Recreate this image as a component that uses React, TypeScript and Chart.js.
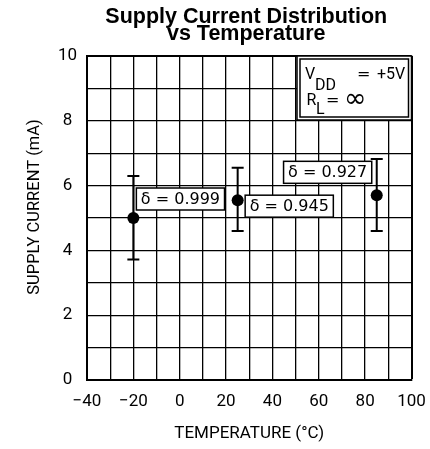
import React, { useEffect, useRef } from 'react';
import { Chart, registerables } from 'chart.js';

Chart.register(...registerables);

// ---- data ----
const temperatures = [-20, 25, 85];
const currentMean = [5.0, 5.55, 5.7];
const currentMax = [6.3, 6.55, 6.82];
const currentMin = [3.72, 4.6, 4.6];
const deltaLabels = ['δ = 0.999', 'δ = 0.945', 'δ = 0.927'];
const xTickLabels = [-40, -20, 0, 20, 40, 60, 80, 100];
const yTickLabels = [0, 2, 4, 6, 8, 10];
const titleLines = ['Supply Current Distribution', 'vs Temperature'];
const xAxisTitle = 'TEMPERATURE (°C)';
const yAxisTitle = 'SUPPLY CURRENT (mA)';

// ---- styles ----
const axisFont = "Roboto, 'DejaVu Sans', sans-serif";
const labelFont = "16px 'DejaVu Sans', sans-serif";
// label placement relative to its point (pixels): align 'left' => box left at dx, 'right' => box right at dx
const labelPlacement = [
  { align: 'left', dx: 3, dy: -19 },
  { align: 'left', dx: 7.5, dy: 6 },
  { align: 'right', dx: -5, dy: -23 },
];

const overlayPlugin = {
  id: 'overlay',
  afterDraw(chart: any) {
    const { ctx, chartArea } = chart;
    const xs = chart.scales.x;
    const ys = chart.scales.y;

    // Title
    ctx.save();
    ctx.fillStyle = '#000';
    ctx.font = "bold 21.5px 'Liberation Sans', Arial, sans-serif";
    ctx.textAlign = 'center';
    ctx.textBaseline = 'alphabetic';
    const cx = (chartArea.left + chartArea.right) / 2 - 3;
    ctx.fillText(titleLines[0], cx, chartArea.top - 33);
    ctx.fillText(titleLines[1], cx, chartArea.top - 16);
    ctx.restore();

    // Y axis title
    ctx.save();
    ctx.fillStyle = '#000';
    ctx.font = '16.5px ' + axisFont;
    ctx.textAlign = 'center';
    ctx.textBaseline = 'middle';
    ctx.translate(35, (chartArea.top + chartArea.bottom) / 2 - 11);
    ctx.rotate(-Math.PI / 2);
    ctx.fillText(yAxisTitle, 0, 0);
    ctx.restore();

    // Legend box (conditions)
    ctx.save();
    const bx0 = chartArea.right - 114.5;
    const by0 = chartArea.top;
    const bx1 = chartArea.right;
    const by1 = chartArea.top + 64;
    ctx.fillStyle = '#fff';
    ctx.fillRect(bx0, by0, bx1 - bx0, by1 - by0);
    ctx.strokeStyle = '#000';
    ctx.lineWidth = 1.5;
    ctx.strokeRect(bx0, by0, bx1 - bx0, by1 - by0);
    ctx.strokeRect(bx0 + 3, by0 + 3, bx1 - bx0 - 6, by1 - by0 - 6);
    ctx.fillStyle = '#000';
    ctx.textAlign = 'left';
    ctx.textBaseline = 'alphabetic';
    ctx.font = '16px ' + axisFont;
    ctx.fillText('V', bx0 + 8, by0 + 23);
    ctx.fillText('DD', bx0 + 18, by0 + 34);
    ctx.fillText('+5V', bx0 + 80, by0 + 23);
    ctx.fillText('R', bx0 + 9.5, by0 + 49);
    ctx.fillText('L', bx0 + 19, by0 + 58);
    ctx.font = "16px 'DejaVu Sans', sans-serif";
    ctx.fillText('=', bx0 + 60, by0 + 23);
    ctx.fillText('=', bx0 + 29, by0 + 49);
    ctx.font = "27px 'DejaVu Sans', sans-serif";
    ctx.textBaseline = 'middle';
    ctx.fillText('∞', bx0 + 47, by0 + 44);
    ctx.restore();

    // Error bars
    ctx.save();
    ctx.strokeStyle = '#000';
    ctx.lineWidth = 2;
    for (let i = 0; i < temperatures.length; i++) {
      const px = xs.getPixelForValue(temperatures[i]);
      const pTop = ys.getPixelForValue(currentMax[i]);
      const pBot = ys.getPixelForValue(currentMin[i]);
      ctx.beginPath();
      ctx.moveTo(px, pTop);
      ctx.lineTo(px, pBot);
      ctx.moveTo(px - 6, pTop);
      ctx.lineTo(px + 6, pTop);
      ctx.moveTo(px - 6, pBot);
      ctx.lineTo(px + 6, pBot);
      ctx.stroke();
    }
    ctx.restore();

    // Points
    ctx.save();
    ctx.fillStyle = '#000';
    for (let i = 0; i < temperatures.length; i++) {
      const px = xs.getPixelForValue(temperatures[i]);
      const py = ys.getPixelForValue(currentMean[i]);
      ctx.beginPath();
      ctx.arc(px, py, 6, 0, Math.PI * 2);
      ctx.fill();
    }
    ctx.restore();

    // Delta labels
    ctx.save();
    ctx.font = labelFont;
    ctx.textBaseline = 'middle';
    ctx.textAlign = 'left';
    for (let i = 0; i < temperatures.length; i++) {
      const px = xs.getPixelForValue(temperatures[i]);
      const py = ys.getPixelForValue(currentMean[i]);
      const pl = labelPlacement[i];
      const tw = ctx.measureText(deltaLabels[i]).width;
      const w = tw + 9;
      const h = 22;
      const left = pl.align === 'left' ? px + pl.dx : px + pl.dx - w;
      const cy = py + pl.dy;
      ctx.fillStyle = '#fff';
      ctx.fillRect(left, cy - h / 2, w, h);
      ctx.strokeStyle = '#000';
      ctx.lineWidth = 1.5;
      ctx.strokeRect(left, cy - h / 2, w, h);
      ctx.fillStyle = '#000';
      ctx.fillText(deltaLabels[i], left + 4.5, cy + 1);
    }
    ctx.restore();
  },
};

export default function App() {
  const canvasRef = useRef<HTMLCanvasElement | null>(null);

  useEffect(() => {
    if (!canvasRef.current) return;
    const chart = new Chart(canvasRef.current, {
      type: 'scatter',
      data: {
        datasets: [
          {
            label: 'Supply current',
            data: temperatures.map((t, i) => ({ x: t, y: currentMean[i] })),
            pointRadius: 0,
            backgroundColor: '#000',
            borderColor: '#000',
          },
        ],
      },
      options: {
        responsive: false,
        animation: false,
        layout: { padding: { top: 56, right: 18.5, left: 0, bottom: 0 } },
        plugins: {
          legend: { display: false },
          title: { display: false },
          tooltip: { enabled: false },
        },
        scales: {
          x: {
            type: 'linear',
            min: -40,
            max: 100,
            afterFit: (s: any) => {
              s.height = 69;
              s.paddingLeft = 0;
              s.paddingRight = 0;
            },
            ticks: {
              stepSize: 10,
              autoSkip: false,
              maxRotation: 0,
              padding: 12,
              color: '#000',
              font: { family: axisFont, size: 17 },
              callback: (v: any) => (xTickLabels.includes(Number(v)) ? String(v).replace('-', '−') : ''),
            },
            grid: {
              color: '#000',
              lineWidth: (c: any) => (c.tick && c.tick.value === 100 ? 2 : 1.3),
              drawTicks: false,
            },
            border: { display: true, color: '#000', width: 2 },
            title: {
              display: true,
              text: xAxisTitle,
              color: '#000',
              font: { family: axisFont, size: 17 },
              padding: { top: 0, bottom: 5 },
            },
          },
          y: {
            type: 'linear',
            min: 0,
            max: 10,
            afterFit: (s: any) => {
              s.width = 87;
              s.paddingTop = 0;
              s.paddingBottom = 0;
            },
            ticks: {
              stepSize: 1,
              autoSkip: false,
              padding: 10,
              crossAlign: 'center',
              color: '#000',
              font: { family: axisFont, size: 17 },
              callback: (v: any) => (yTickLabels.includes(Number(v)) ? String(v) : ''),
            },
            grid: {
              color: '#000',
              lineWidth: (c: any) => (c.tick && c.tick.value === 10 ? 2 : 1.3),
              drawTicks: false,
            },
            border: { display: true, color: '#000', width: 2 },
            title: { display: false },
          },
        },
      },
      plugins: [overlayPlugin],
    });
    return () => chart.destroy();
  }, []);

  return (
    <div style={{ position: 'absolute', left: 0, top: 0, width: 430, height: 449, background: '#fff' }}>
      <canvas ref={canvasRef} width={430} height={449} style={{ display: 'block' }} />
    </div>
  );
}
